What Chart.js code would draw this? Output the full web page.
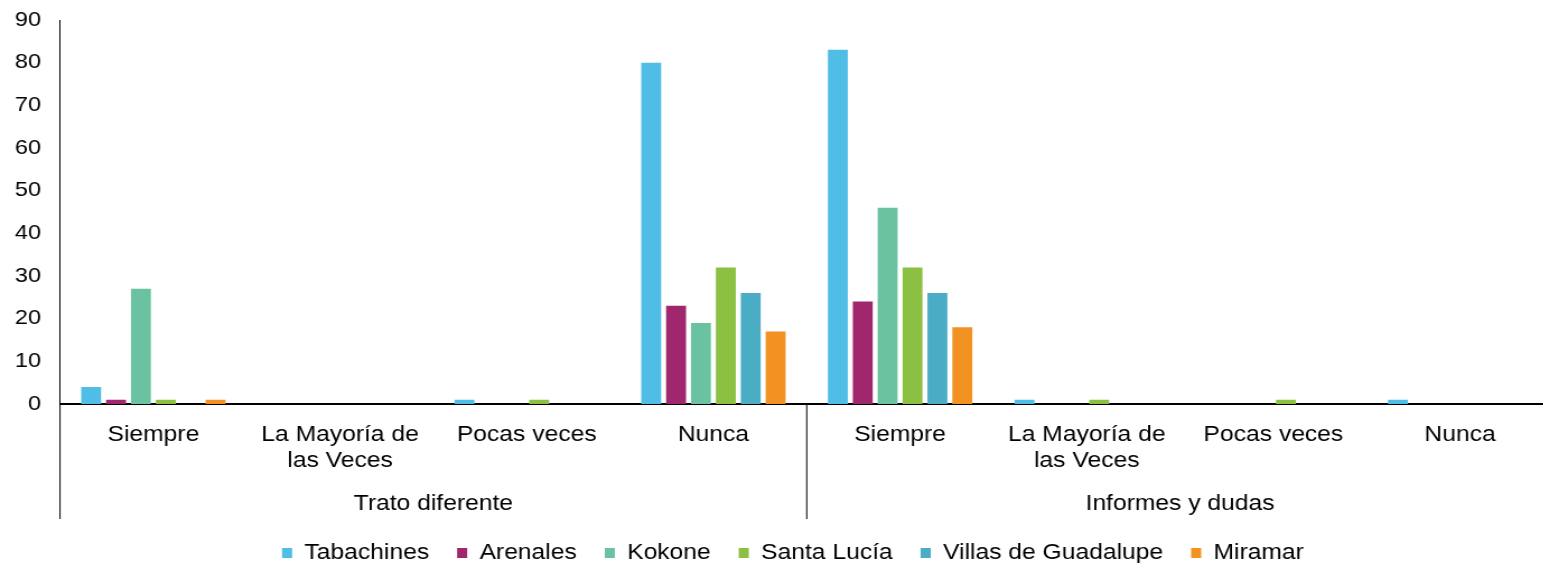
<!DOCTYPE html>
<html>
<head>
<meta charset="utf-8">
<script src="https://cdn.jsdelivr.net/npm/chart.js@4"></script>
<style>
	html, body { margin: 0; padding: 0; overflow: hidden; background: #fff; }
	/* the source picture is a little wider than tall, so stretch it */
	#wrap { position: relative; width: 1414px; height: 574px; transform: scaleX(1.12); transform-origin: 0 0; }
</style>
</head>
<body>
<div id="wrap"><canvas id="myChart"></canvas></div>
<script>
var categories = [
	'Siempre', ['La Mayoría de', 'las Veces'], 'Pocas veces', 'Nunca',
	'Siempre', ['La Mayoría de', 'las Veces'], 'Pocas veces', 'Nunca'
];
var groups = ['Trato diferente', 'Informes y dudas'];
var yTicks = [0, 10, 20, 30, 40, 50, 60, 70, 80, 90];

var tabachines = [4, 0, 1, 80, 83, 1, 0, 1];
var arenales = [1, 0, 0, 23, 24, 0, 0, 0];
var kokone = [27, 0, 0, 19, 46, 0, 0, 0];
var santaLucia = [1, 0, 1, 32, 32, 1, 1, 0];
var villas = [0, 0, 0, 26, 26, 0, 0, 0];
var miramar = [1, 0, 0, 17, 18, 0, 0, 0];

var FONT = { family: 'Arial, "Liberation Sans", sans-serif', size: 22 };

function makeSet(label, data, color) {
	return {
		label: label,
		data: data,
		backgroundColor: color,
		borderWidth: 0,
		categoryPercentage: 0.8,
		barPercentage: 0.8
	};
}

// separators below the axis and the group titles
var groupPlugin = {
	id: 'groupPlugin',
	afterLayout: function(chart) {
		// centre the legend on the page, not on the plot
		var dx = 14.5;
		chart.legend.left += dx;
		chart.legend.right += dx;
	},
	afterDraw: function(chart) {
		var ctx = chart.ctx;
		var x = chart.scales.x;
		var area = chart.chartArea;
		var half = (x.getPixelForValue(1) - x.getPixelForValue(0)) / 2;
		var lineBottom = area.bottom + 115;
		ctx.save();
		ctx.strokeStyle = '#000';
		ctx.lineWidth = 1;
		var cuts = [x.getPixelForValue(0) - half, x.getPixelForValue(4) - half, x.getPixelForValue(7) + half];
		for (var i = 0; i < cuts.length; i++) {
			ctx.beginPath();
			ctx.moveTo(cuts[i], area.bottom);
			ctx.lineTo(cuts[i], lineBottom);
			ctx.stroke();
		}
		ctx.fillStyle = '#000';
		ctx.font = FONT.size + 'px ' + FONT.family;
		ctx.textAlign = 'center';
		ctx.textBaseline = 'middle';
		for (var g = 0; g < groups.length; g++) {
			var mid = (cuts[g] + cuts[g + 1]) / 2;
			ctx.fillText(groups[g], mid, area.bottom + 100);
		}
		ctx.restore();
	}
};

var ctx = document.getElementById('myChart').getContext('2d');
var myChart = new Chart(ctx, {
	type: 'bar',
	data: {
		labels: categories,
		datasets: [
			makeSet('Tabachines', tabachines, '#4FBDE6'),
			makeSet('Arenales', arenales, '#A0266D'),
			makeSet('Kokone', kokone, '#6BC2A0'),
			makeSet('Santa Lucía', santaLucia, '#8BC043'),
			makeSet('Villas de Guadalupe', villas, '#4BACC6'),
			makeSet('Miramar', miramar, '#F29222')
		]
	},
	options: {
		responsive: true,
		maintainAspectRatio: false,
		animation: false,
		layout: { padding: { top: 20, right: 27, left: 0, bottom: 0 } },
		plugins: {
			legend: {
				position: 'bottom',
				labels: {
					boxWidth: 9,
					boxHeight: 10,
					padding: 25,
					color: '#000',
					font: FONT
				}
			},
			tooltip: { enabled: false }
		},
		scales: {
			x: {
				grid: { display: false, drawTicks: false },
				border: { display: true, color: '#000', width: 2 },
				ticks: {
					autoSkip: false,
					maxRotation: 0,
					padding: 18,
					color: '#000',
					font: { family: FONT.family, size: 22, lineHeight: 1.18 }
				},
				afterFit: function(scale) {
					scale.height = 113;
					scale.paddingLeft = 0;
					scale.paddingRight = 0;
				}
			},
			y: {
				min: 0,
				max: 90,
				afterBuildTicks: function(scale) {
					scale.ticks = yTicks.map(function(v) { return { value: v }; });
				},
				grid: { display: false, drawTicks: false },
				border: { display: true, color: '#000', width: 1 },
				ticks: { padding: 17, color: '#000', font: { family: FONT.family, size: 21 } },
				afterFit: function(scale) {
					scale.width = 53.6;
					scale.paddingTop = 0;
					scale.paddingBottom = 0;
				}
			}
		}
	},
	plugins: [groupPlugin]
});
</script>
</body>
</html>
